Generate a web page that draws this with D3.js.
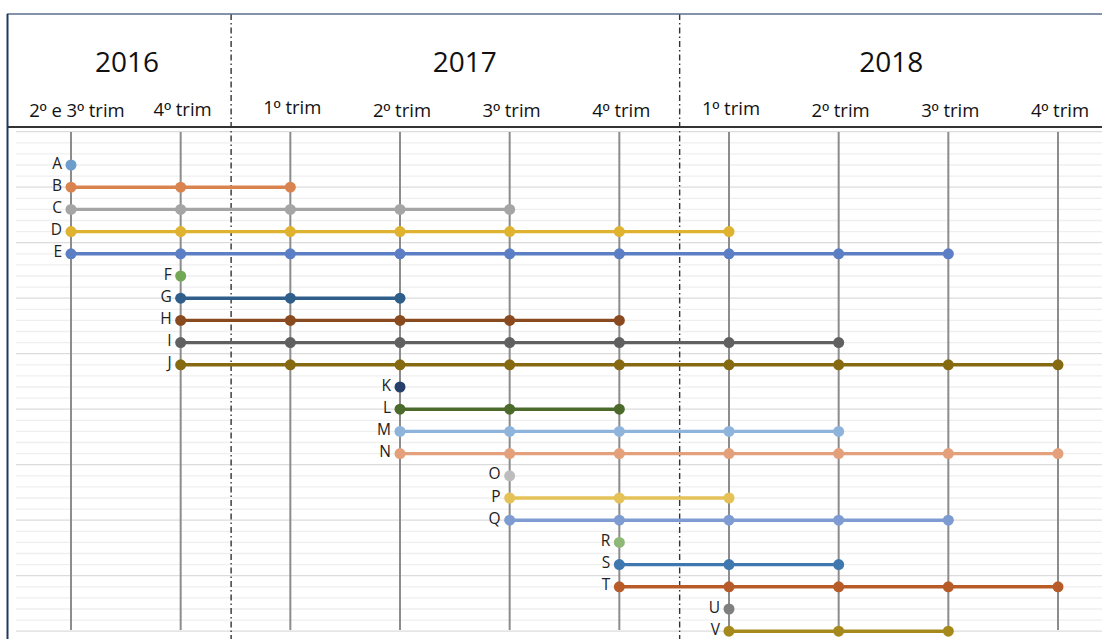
<!DOCTYPE html>
<html>
<head>
<meta charset="utf-8">
<script src="https://cdn.jsdelivr.net/npm/d3@7"></script>
<style>
  html, body { margin: 0; padding: 0; background: #fff; }
  svg { display: block; font-family: "Open Sans", Lato, sans-serif; }
</style>
</head>
<body>
<svg id="chart" width="1102" height="639"></svg>
<script>
// Quarter columns along the timeline
const quarters = ["2º e 3º trim", "4º trim", "1º trim", "2º trim", "3º trim", "4º trim",
                  "1º trim", "2º trim", "3º trim", "4º trim"];
// Year headings: label and the column position they are centred on
const years = ["2016", "2017", "2018"];
const yearCenters = [0.51, 3.59, 7.48];
// Year boundaries (in column units)
const yearBreaks = [1.46, 5.55];

// Activities: label, first and last quarter index, colour
const tasks  = ["A","B","C","D","E","F","G","H","I","J","K","L","M","N","O","P","Q","R","S","T","U","V"];
const starts = [0, 0, 0, 0, 0, 1, 1, 1, 1, 1, 3, 3, 3, 3, 4, 4, 4, 5, 5, 5, 6, 6];
const ends   = [0, 2, 4, 6, 8, 1, 3, 5, 7, 9, 3, 5, 7, 9, 4, 6, 8, 5, 7, 9, 6, 8];
const colors = ["#6d9dcb","#d9834f","#a5a5a5","#dfb22f","#5b7ec4","#72a853","#2f5e8b","#8a4a1f",
                "#606060","#866a12","#27406a","#4b6a2c","#8fb4dc","#e3a07b","#bdbdbd","#e5c257",
                "#7e9cd2","#8db877","#3e78ae","#b75c28","#7f7f7f","#a6891c"];

const svg = d3.select("#chart");
const W = 1102, H = 639;

const x = d3.scaleLinear().domain([0, 9]).range([71, 1058]);
const y = d3.scaleLinear().domain([-1.5, 21]).range([131.7, 631.2]);

// Background gridlines every half row, stronger every fifth
const gridVals = d3.range(0, 46).map(j => -1.5 + j * 0.5);
svg.append("g")
  .selectAll("line")
  .data(gridVals)
  .join("line")
  .attr("x1", 16).attr("x2", W)
  .attr("y1", d => y(d)).attr("y2", d => y(d))
  .attr("stroke", (d, j) => j % 5 === 0 ? "#dcdcdc" : "#efefef")
  .attr("stroke-width", 1.3);

// Vertical quarter lines
svg.append("g")
  .selectAll("line")
  .data(quarters)
  .join("line")
  .attr("x1", (d, i) => x(i)).attr("x2", (d, i) => x(i))
  .attr("y1", 132).attr("y2", 630)
  .attr("stroke", "#8c8c8c")
  .attr("stroke-width", 2);

// Year separators (dash-dot)
svg.append("g")
  .selectAll("line")
  .data(yearBreaks)
  .join("line")
  .attr("x1", d => x(d)).attr("x2", d => x(d))
  .attr("y1", 14).attr("y2", H)
  .attr("stroke", "#333")
  .attr("stroke-width", 1.4)
  .attr("stroke-dasharray", "6,3,1.5,3");

// Frame: top rule, header separator, left edge
svg.append("line").attr("x1", 7).attr("x2", W).attr("y1", 14).attr("y2", 14)
  .attr("stroke", "#5b6f8c").attr("stroke-width", 1.5);
svg.append("line").attr("x1", 7).attr("x2", W).attr("y1", 127).attr("y2", 127)
  .attr("stroke", "#333").attr("stroke-width", 2);
svg.append("line").attr("x1", 7.5).attr("x2", 7.5).attr("y1", 14).attr("y2", H)
  .attr("stroke", "#1f3a5f").attr("stroke-width", 2);

// Header: years
svg.append("g")
  .selectAll("text")
  .data(years)
  .join("text")
  .attr("x", (d, i) => x(yearCenters[i]))
  .attr("y", 72)
  .attr("text-anchor", "middle")
  .attr("font-size", 28)
  .attr("fill", "#111")
  .text(d => d);

// Header: quarter labels via a top axis
const labelLift = [0, -1.5, -3, 0, 0, 0, -2, 0, 0, 0];
const axis = d3.axisTop(x)
  .tickValues(d3.range(quarters.length))
  .tickFormat(i => quarters[i])
  .tickSize(0)
  .tickPadding(0);
const ax = svg.append("g").attr("transform", "translate(0,117)").call(axis);
ax.select(".domain").remove();
ax.selectAll("text")
  .attr("font-family", "'Open Sans', Lato, sans-serif")
  .attr("font-size", 18.5)
  .attr("fill", "#111")
  .attr("dy", (d, i) => labelLift[i])
  .attr("dx", (d, i) => i === 0 ? 5.5 : 1.5)
  .each(function (d, i) {
    // ordinal indicator drawn with an underlined-º face
    const t = d3.select(this);
    const parts = quarters[i].split("º");
    t.text(null);
    parts.forEach((p, k) => {
      if (k > 0) t.append("tspan").attr("font-family", "'Liberation Sans', Arial, sans-serif").text("º");
      if (p) t.append("tspan").text(p);
    });
  });

// Activity bars
const rows = tasks.map((t, i) => ({ t, i, s: starts[i], e: ends[i], c: colors[i] }));

const g = svg.append("g");
g.selectAll("line.bar")
  .data(rows.filter(r => r.e > r.s))
  .join("line")
  .attr("class", "bar")
  .attr("x1", r => x(r.s)).attr("x2", r => x(r.e))
  .attr("y1", r => y(r.i)).attr("y2", r => y(r.i))
  .attr("stroke", r => r.c)
  .attr("stroke-width", 3.4);

const pts = rows.flatMap(r => d3.range(r.s, r.e + 1).map(q => ({ q, i: r.i, c: r.c })));
g.selectAll("circle")
  .data(pts)
  .join("circle")
  .attr("cx", p => x(p.q))
  .attr("cy", p => y(p.i))
  .attr("r", 5.5)
  .attr("fill", p => p.c);

g.selectAll("text")
  .data(rows)
  .join("text")
  .attr("x", r => x(r.s) - 9)
  .attr("y", r => y(r.i) + 3.5)
  .attr("text-anchor", "end")
  .attr("font-size", 15.5)
  .attr("fill", "#222")
  .text(r => r.t);
</script>
</body>
</html>
